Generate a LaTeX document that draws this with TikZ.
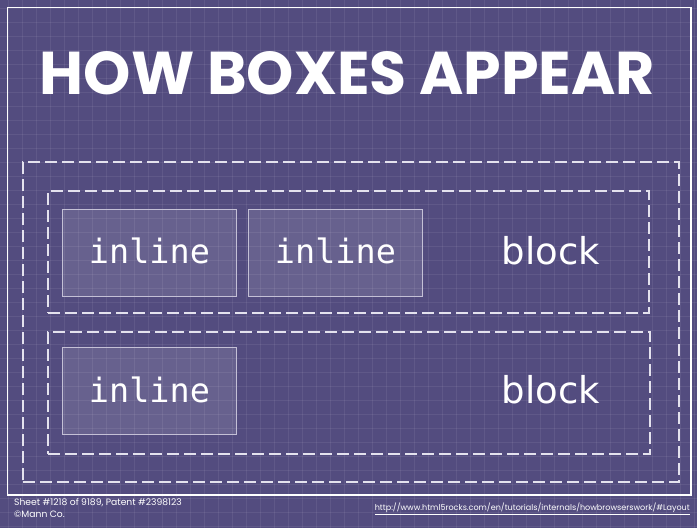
\documentclass[tikz,border=0pt]{standalone}
\usepackage{fontspec}
\setmainfont{DejaVu Sans}
\newfontfamily\titlefont{Poppins}
\newfontfamily\codefont{DejaVu Sans Mono}
\newfontfamily\notefont{Poppins}
\definecolor{sheetbg}{RGB}{83,76,127}
\definecolor{dashline}{RGB}{228,226,238}
\definecolor{boxline}{RGB}{196,192,214}
\tikzset{
  frameline/.style={draw=white, line width=1.5pt},
  gridline/.style={draw=white, opacity=0.07, line width=0.8pt},
  dashbox/.style={draw=dashline, line width=2pt, dash pattern=on 12pt off 5pt},
  inlinebox/.style={draw=boxline, line width=1pt, fill=white, fill opacity=0.12,
    text opacity=1, minimum width=174pt, minimum height=87pt, inner sep=0pt},
  inlinetxt/.style={anchor=base, text=white, font=\codefont\fontsize{33.5}{40}\selectfont, inner sep=0pt},
  blocktxt/.style={anchor=base, text=white, font=\fontsize{37}{44}\selectfont, inner sep=0pt}
}
\begin{document}
\begin{tikzpicture}[x=1pt, y=-1pt]

  % --- 1. 背景と方眼 ---
  \useasboundingbox (0,0) rectangle (697,528);
  \fill[sheetbg] (0,0) rectangle (697,528);
  \foreach \x in {8.7,22.7,...,697} \draw[gridline] (\x,0) -- (\x,528);
  \foreach \y in {8.7,22.7,...,528} \draw[gridline] (0,\y) -- (697,\y);
  \draw[frameline] (7.5,7.5) rectangle (691,495);

  % --- 2. 見出し ---
  \node[inner sep=0pt, text=white] (title) at (347.5,73.5)
    {\resizebox{615pt}{43pt}{\titlefont\bfseries HOW BOXES APPEAR}};

  % --- 3. 破線のボックス (外側・ブロック行) ---
  \node[dashbox, minimum width=656pt, minimum height=320pt] (outer) at (351,322) {};
  \node[dashbox, minimum width=601pt, minimum height=122pt] (row1) at (348.5,252) {};
  \node[dashbox, minimum width=602pt, minimum height=122pt] (row2) at (349,393) {};

  % --- 4. インラインボックス ---
  \node[inlinebox] (in1) at (149,252.5) {};
  \node[inlinebox] (in2) at (335,252.5) {};
  \node[inlinebox] (in3) at (149,391) {};

  \node[inlinetxt] (in1txt) at (149.5,263.5) {inline};
  \node[inlinetxt] (in2txt) at (335.5,263.5) {inline};
  \node[inlinetxt] (in3txt) at (149.5,402.5) {inline};

  % --- 5. block の文字 ---
  \node[blocktxt] (blk1) at (551,264.5) {block};
  \node[blocktxt] (blk2) at (551,403.5) {block};

  % --- 6. 欄外の注記 ---
  \node[anchor=north west, inner sep=0pt, align=left, text=white,
    font=\notefont\fontsize{9.2}{12}\selectfont] (sheet) at (14,498.5)
    {Sheet \#1218 of 9189, Patent \#2398123\\\textcopyright Mann Co.};
  \node[anchor=north east, inner sep=0pt, text=white] (url) at (690,503)
    {\resizebox{315pt}{!}{\notefont\fontsize{8}{10}\selectfont\underline{http://www.html5rocks.com/en/tutorials/internals/howbrowserswork/\#Layout}}};

\end{tikzpicture}
\end{document}
